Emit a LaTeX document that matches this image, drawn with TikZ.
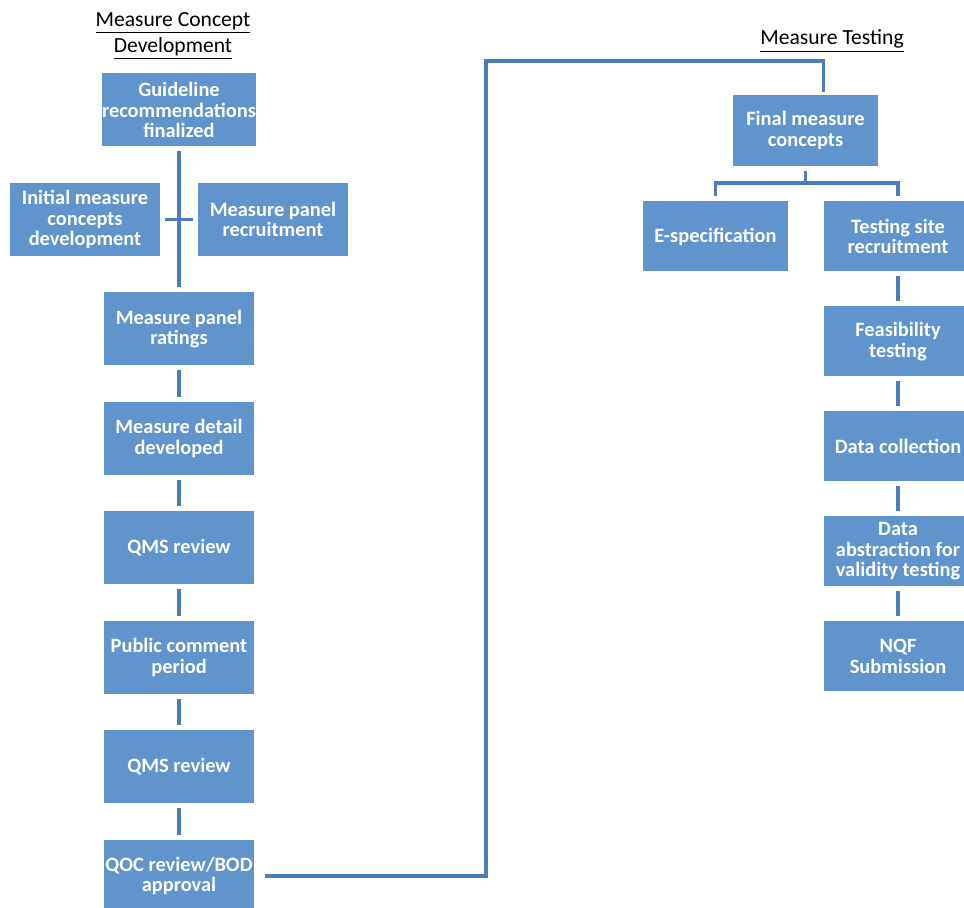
\documentclass[tikz,border=0pt]{standalone}
\usepackage{fontspec}
\setmainfont{Carlito}
\usepackage{xcolor}
\usetikzlibrary{positioning,calc}
\definecolor{boxblue}{RGB}{95,149,204}
\definecolor{linkblue}{RGB}{74,126,187}

\begin{document}
\begin{tikzpicture}[x=0.5pt,y=-0.5pt,every node/.style={outer sep=0pt}]
\tikzstyle{stage}=[fill=boxblue,draw=none,text=white,font=\fontsize{10.2}{10.3}\selectfont\bfseries,
align=center,minimum width=75pt,minimum height=36.5pt,inner sep=0pt]
\tikzstyle{tstage}=[stage,minimum width=74pt,minimum height=35pt]
\tikzstyle{link}=[draw=linkblue,line width=1.8pt,shorten <=2.5pt,shorten >=2.5pt]
\tikzstyle{heading}=[font=\fontsize{10.8}{13.2}\selectfont,align=center]

\useasboundingbox (0,0) rectangle (964,908);
%
\node (hconcept) [heading] at (173,36) {\underline{Measure Concept}\\\underline{Development}};
\node (htesting) [heading] at (832,41) {\underline{Measure Testing}};
%
\node (guide) [stage] at (179,110) {Guideline\\recommendations\\finalized};
\node (init) [stage] at (85,219.5) {Initial measure\\concepts\\development};
\node (recruit) [stage] at (273,219.5) {Measure panel\\recruitment};
\node (ratings) [stage,below=73pt of guide] {Measure panel\\ratings};
\node (detail) [stage,below=18.2pt of ratings] {Measure detail\\developed};
\node (qmsa) [stage,below=18.2pt of detail] {QMS review};
\node (pcomment) [stage,below=18.2pt of qmsa] {Public comment\\period};
\node (qmsb) [stage,below=18.2pt of pcomment] {QMS review};
\node (qoc) [stage,below=18.2pt of qmsb] {QOC review/BOD\\approval};
%
\node (final) [tstage,minimum width=72.5pt,minimum height=35.5pt] at (805.5,130.5) {Final measure\\concepts};
\node (espec) [tstage,minimum width=72.5pt] at (715.5,236.5) {E-specification};
\node (site) [tstage] at (898,236.5) {Testing site\\recruitment};
\node (feas) [tstage,below=17.5pt of site] {Feasibility\\testing};
\node (collect) [tstage,below=17.5pt of feas] {Data collection};
\node (abstract) [tstage,below=17.5pt of collect] {Data\\abstraction for\\validity testing};
\node (nqf) [tstage,below=17.5pt of abstract] {NQF\\Submission};
%
\draw [link] (guide.south) -- (ratings.north);
\draw [link] (init.east) -- (recruit.west);
\foreach \a/\b in {ratings/detail,detail/qmsa,qmsa/pcomment,pcomment/qmsb,qmsb/qoc}
  \draw [link] (\a.south) -- (\b.north);
%
\coordinate (turn) at (486,61);
\draw [link,shorten <=5.5pt,shorten >=1.5pt] (qoc.east) -| (turn) -| ($(final.north)+(18,0)$);
%
\coordinate (split) at ($(final.south)+(0,17)$);
\draw [link,shorten >=0pt] (final.south) -- (split);
\draw [link] (espec.north) |- (split) -| (site.north);
\foreach \a/\b in {site/feas,feas/collect,collect/abstract,abstract/nqf}
  \draw [link] (\a.south) -- (\b.north);
\end{tikzpicture}
\end{document}
